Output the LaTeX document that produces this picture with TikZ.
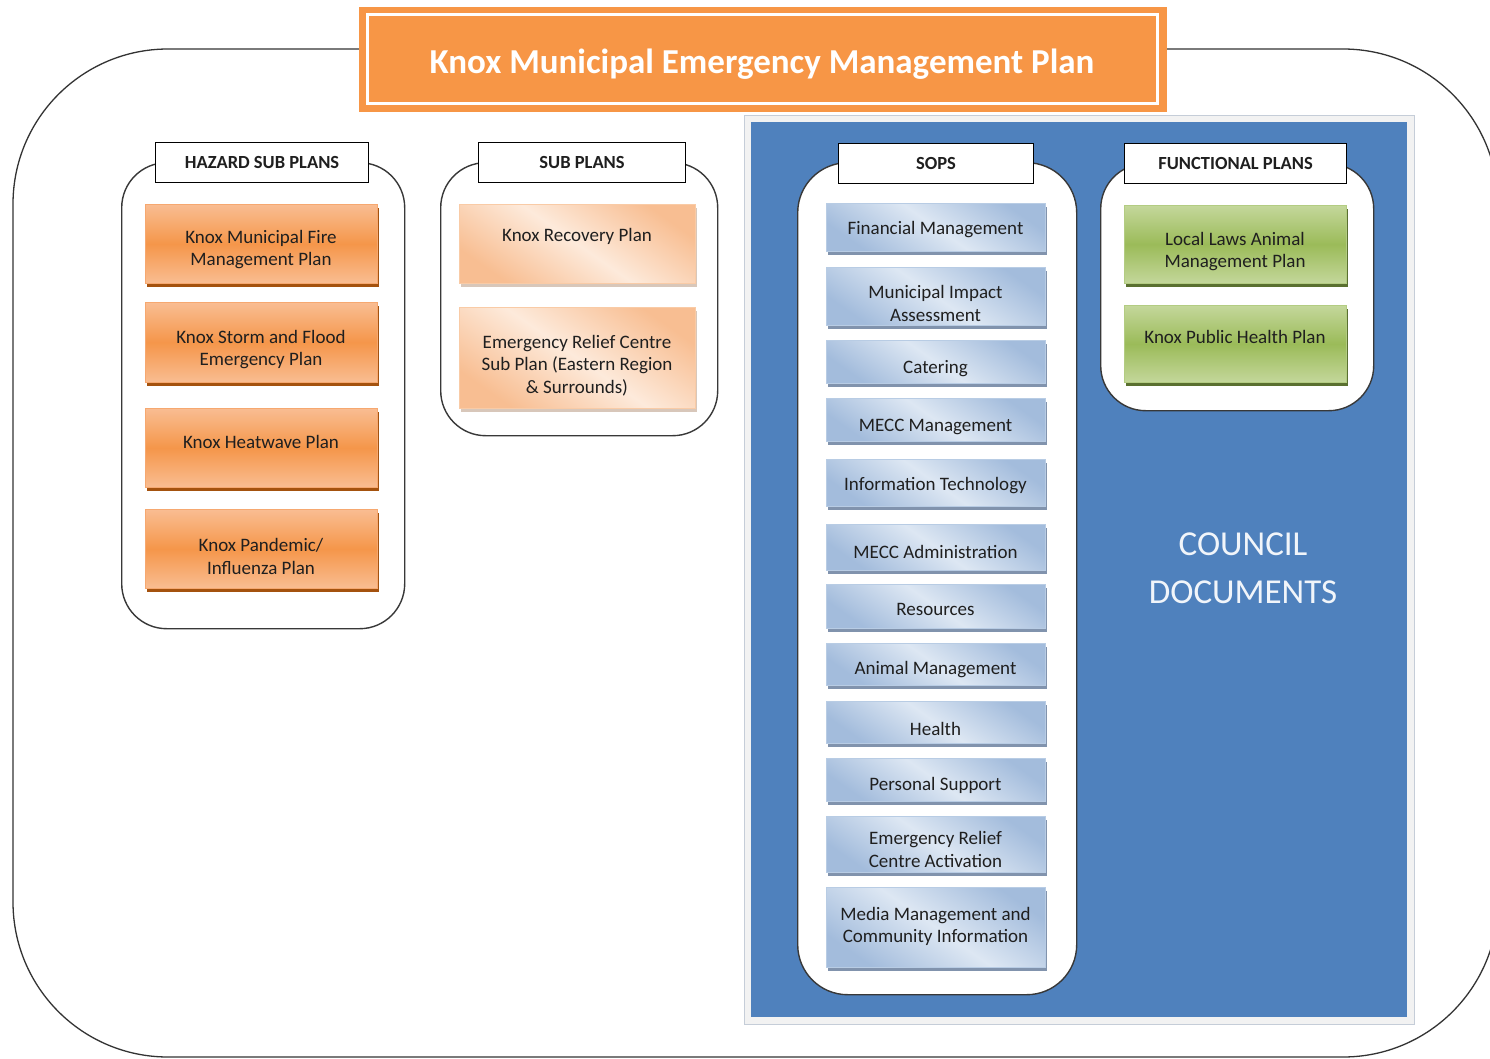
\documentclass[tikz,border=0pt]{standalone}
\usepackage{fontspec}
\setmainfont{Carlito}
\definecolor{ttlorange}{HTML}{F79646}
\definecolor{hzlight}{HTML}{F9BD92}
\definecolor{hzmid}{HTML}{F5964A}
\definecolor{hzedge}{HTML}{F6A870}
\definecolor{hzshadow}{HTML}{A4520E}
\definecolor{pcdark}{HTML}{F8BE92}
\definecolor{pclight}{HTML}{FDEADB}
\definecolor{pcedge}{HTML}{F9CBA6}
\definecolor{pcshadow}{HTML}{D8C7BA}
\definecolor{bldark}{HTML}{A3BCDC}
\definecolor{bllight}{HTML}{DDE7F3}
\definecolor{bledge}{HTML}{B8CCE4}
\definecolor{blshadow}{HTML}{8193AD}
\definecolor{grlight}{HTML}{C4D79B}
\definecolor{grmid}{HTML}{9BBB59}
\definecolor{gredge}{HTML}{B3CC82}
\definecolor{grshadow}{HTML}{5A7030}
\definecolor{panelblue}{HTML}{4F81BD}
\definecolor{framegray}{HTML}{F2F2F2}
\definecolor{frameedge}{HTML}{C5CDD8}
\definecolor{txt}{HTML}{1F1F1F}
\tikzset{
  outerframe/.style={draw=black!80, line width=1.3pt, rounded corners=155pt},
  grp/.style={draw=black!78, line width=1.4pt, fill=white, rounded corners=45pt, anchor=north west, inner sep=0pt},
  hdr/.style={draw=black, line width=1.1pt, fill=white, anchor=north west, inner sep=0pt,
    font=\fontsize{18.5}{22}\selectfont\bfseries, text=txt},
  itxt/.style={align=center, font=\fontsize{19}{22.5}\selectfont, text=txt, inner sep=0pt},
  hz/.style={draw=hzedge, line width=0.8pt, top color=hzlight, bottom color=hzlight, middle color=hzmid},
  hzsh/.style={fill=hzshadow},
  pc/.style={draw=pcedge, line width=0.8pt, top color=pcdark, bottom color=pcdark, middle color=pclight, shading angle=-35},
  pcsh/.style={fill=pcshadow},
  bl/.style={draw=bledge, line width=0.8pt, top color=bldark, bottom color=bldark, middle color=bllight, shading angle=-35},
  blsh/.style={fill=blshadow},
  gr/.style={draw=gredge, line width=0.8pt, top color=grlight, bottom color=grlight, middle color=grmid},
  grsh/.style={fill=grshadow},
}
% #1 name, #2 style, #3 x1, #4 y1, #5 x2, #6 y2, #7 text y, #8 text
\newcommand\itm[8]{%
  \fill[#2sh] (#3+2,#4+4) rectangle (#5+2,#6+4);
  \node[#2, anchor=north west, inner sep=0pt, minimum width={(#5-#3)*1pt}, minimum height={(#6-#4)*1pt}] (#1) at (#3,#4) {};
  \node[itxt] (#1t) at ({(#3+#5)/2},#7+1.5) {#8};
}
\begin{document}
\begin{tikzpicture}[x=1pt,y=-1pt]
\useasboundingbox (0,0) rectangle (1490,1059);
\fill[white] (0,0) rectangle (1490,1059);
% outer frame
\draw[outerframe] (13,49) rectangle (1498,1057);
% title
\node[fill=ttlorange, draw=ttlorange, anchor=north west, inner sep=0pt, minimum width=807pt, minimum height=104pt] (title) at (359,7) {};
\node[draw=white, line width=2.5pt, minimum width=790pt, minimum height=89pt, inner sep=0pt] (titleline) at (title.center) {};
\node[font=\fontsize{35}{40}\selectfont\bfseries, text=white, inner sep=0pt] (titletext) at (762,64) {Knox Municipal Emergency Management Plan};
% council documents panel
\node[fill=framegray, draw=frameedge, line width=1pt, anchor=north west, inner sep=0pt, minimum width=670pt, minimum height=909pt] (pframe) at (744,115) {};
\node[fill=panelblue, anchor=north west, inner sep=0pt, minimum width=656pt, minimum height=895pt] (panel) at (751,122) {};
\node[align=center, font=\fontsize{35}{48}\selectfont, text=white!92!panelblue] (council) at (1243,568) {COUNCIL\\DOCUMENTS};
% groups
\node[grp, minimum width=283pt, minimum height=466pt] (hzg) at (121,162) {};
\node[grp, minimum width=277pt, minimum height=273pt] (sbg) at (440,162) {};
\node[grp, minimum width=279pt, minimum height=832pt, rounded corners=50pt] (sog) at (797,162) {};
\node[grp, minimum width=273pt, minimum height=247pt] (fng) at (1100,163) {};
% headers
\node[hdr, minimum width=213pt, minimum height=40pt] (hzh) at (155,142) {HAZARD SUB PLANS};
\node[hdr, minimum width=207pt, minimum height=40pt] (sbh) at (478,142) {SUB PLANS};
\node[hdr, minimum width=195pt, minimum height=40pt] (soh) at (838,143) {SOPS};
\node[hdr, minimum width=222pt, minimum height=40pt] (fnh) at (1124,143) {FUNCTIONAL PLANS};
% hazard items
\itm{h1}{hz}{145}{204}{377}{283}{248}{Knox Municipal Fire\\Management Plan}
\itm{h2}{hz}{145}{302}{377}{382}{348}{Knox Storm and Flood\\Emergency Plan}
\itm{h3}{hz}{145}{408}{377}{487}{440}{Knox Heatwave Plan}
\itm{h4}{hz}{145}{509}{377}{588}{555}{Knox Pandemic/\\Influenza Plan}
% sub plans
\itm{s1}{pc}{459}{204}{695}{283}{235}{Knox Recovery Plan}
\itm{s2}{pc}{459}{307}{695}{408}{364}{Emergency Relief Centre\\Sub Plan (Eastern Region\\\& Surrounds)}
% SOPS
\itm{o1}{bl}{826}{203}{1045}{251}{228}{Financial Management}
\itm{o2}{bl}{826}{267}{1045}{325}{302}{Municipal Impact\\Assessment}
\itm{o3}{bl}{826}{340}{1045}{383}{367}{Catering}
\itm{o4}{bl}{826}{398}{1045}{441}{425}{MECC Management}
\itm{o5}{bl}{826}{459}{1045}{506}{484}{Information Technology}
\itm{o6}{bl}{826}{524}{1045}{570}{550}{MECC Administration}
\itm{o7}{bl}{826}{584}{1045}{628}{608}{Resources}
\itm{o8}{bl}{826}{643}{1045}{685}{668}{Animal Management}
\itm{o9}{bl}{826}{701}{1045}{743}{727}{Health}
\itm{o10}{bl}{826}{758}{1045}{801}{784}{Personal Support}
\itm{o11}{bl}{826}{816}{1045}{872}{848}{Emergency Relief\\Centre Activation}
\itm{o12}{bl}{826}{887}{1045}{967}{925}{Media Management and\\Community Information}
% functional plans
\itm{f1}{gr}{1124}{205}{1346}{283}{250}{Local Laws Animal\\Management Plan}
\itm{f2}{gr}{1124}{305}{1346}{382}{335}{Knox Public Health Plan}
\end{tikzpicture}
\end{document}
